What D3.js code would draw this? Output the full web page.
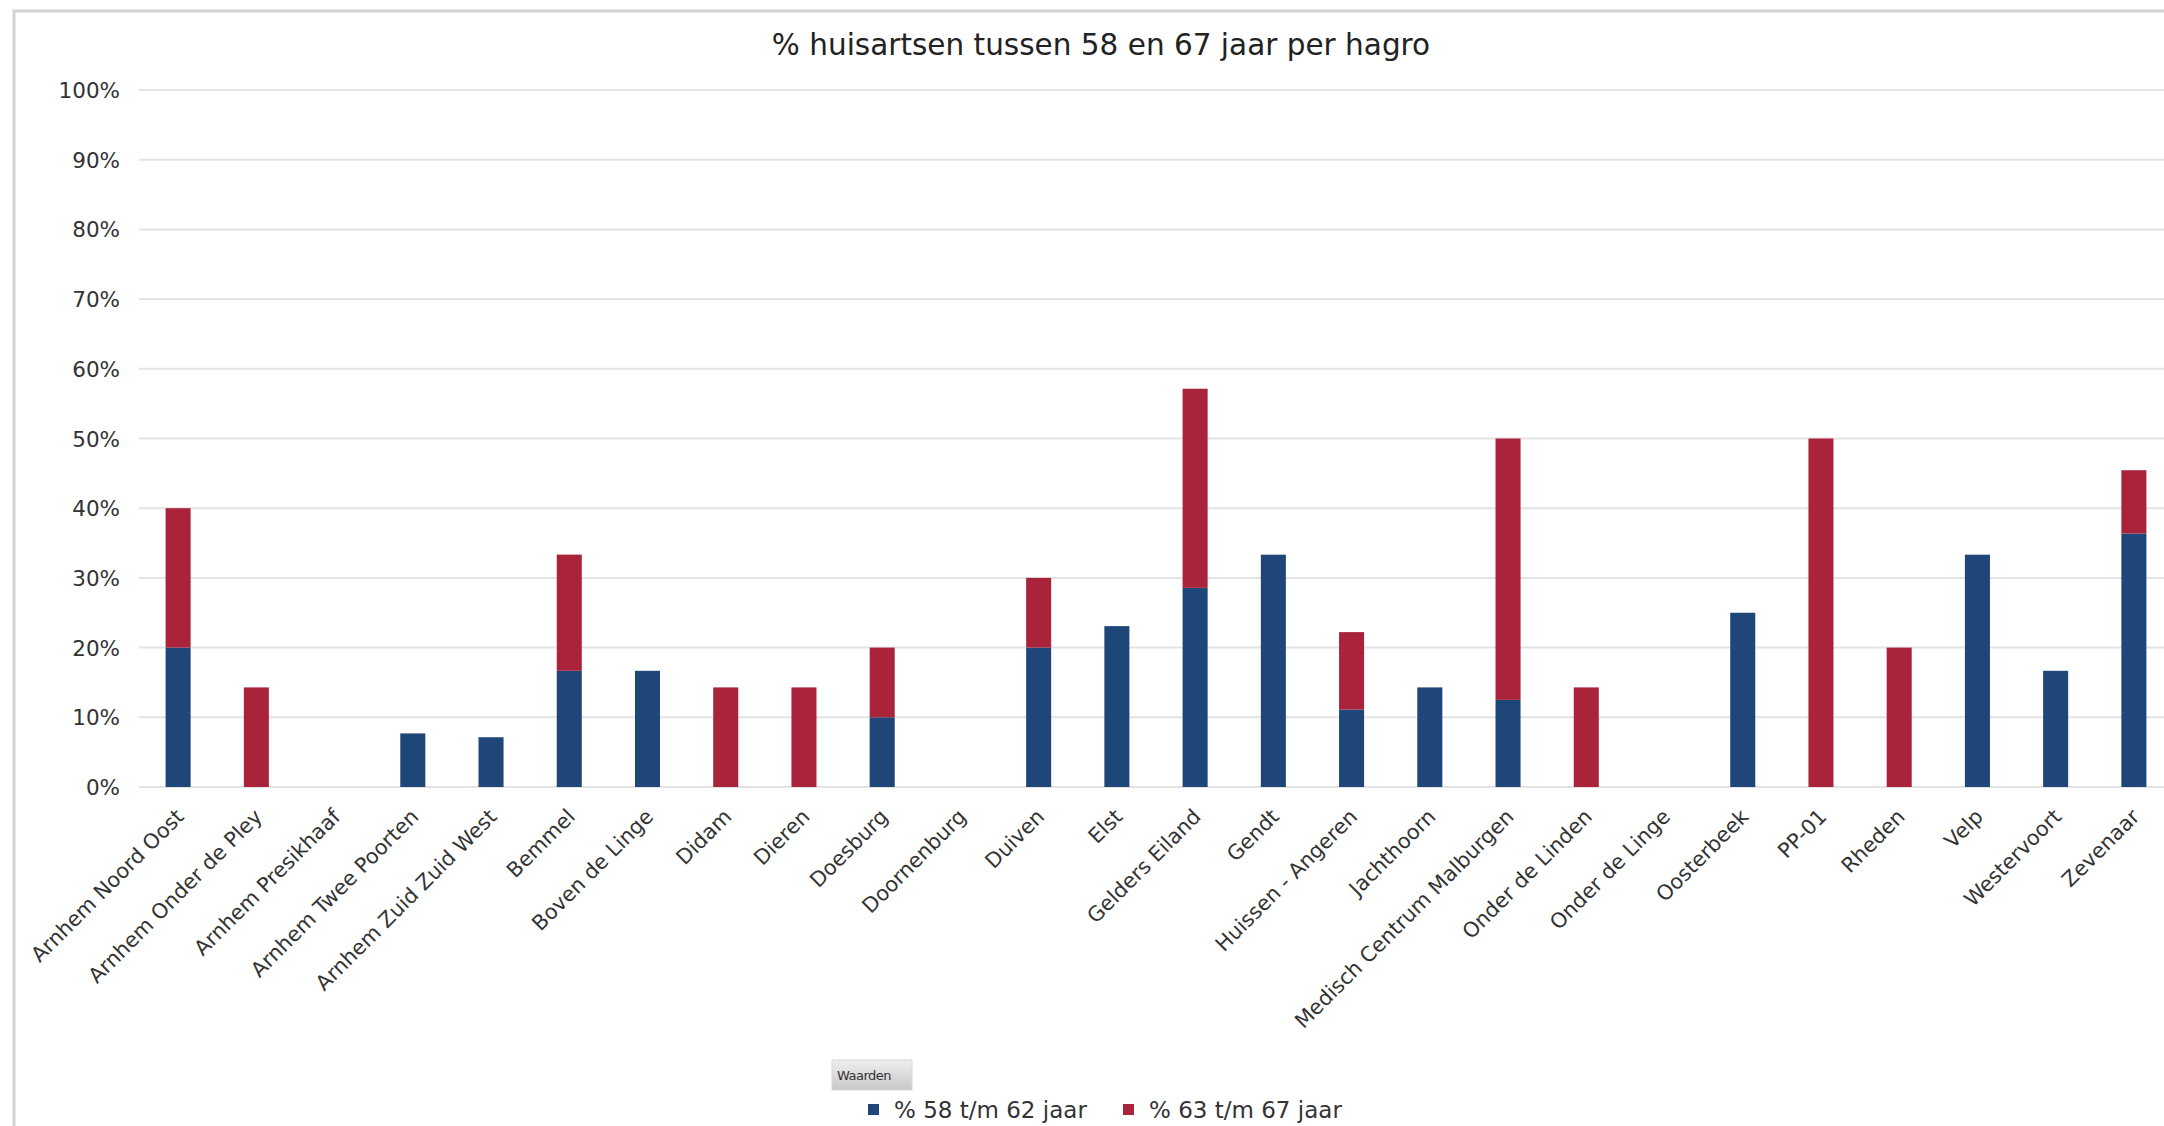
<!DOCTYPE html>
<html><head><meta charset="utf-8">
<script src="https://cdn.jsdelivr.net/npm/d3@7"></script>
<style>
html,body{margin:0;padding:0;background:#fff;overflow:hidden;}
svg{display:block;}
</style></head>
<body>
<svg id="chart" width="2164" height="1126"></svg>
<script>
const categories = ["Arnhem Noord Oost","Arnhem Onder de Pley","Arnhem Presikhaaf","Arnhem Twee Poorten","Arnhem Zuid Zuid West","Bemmel","Boven de Linge","Didam","Dieren","Doesburg","Doornenburg","Duiven","Elst","Gelders Eiland","Gendt","Huissen - Angeren","Jachthoorn","Medisch Centrum Malburgen","Onder de Linden","Onder de Linge","Oosterbeek","PP-01","Rheden","Velp","Westervoort","Zevenaar"];
const pct58to62 = [20,0,0,7.69,7.14,16.67,16.67,0,0,10,0,20,23.08,28.57,33.33,11.11,14.29,12.5,0,0,25,0,0,33.33,16.67,36.36];
const pct63to67 = [20,14.29,0,0,0,16.67,0,14.29,14.29,10,0,10,0,28.57,0,11.11,0,37.5,14.29,0,0,50,20,0,0,9.09];
const seriesNames = ["% 58 t/m 62 jaar","% 63 t/m 67 jaar"];
const yTicks = [0,10,20,30,40,50,60,70,80,90,100];
const title = "% huisartsen tussen 58 en 67 jaar per hagro";
const legendTitle = "Waarden";

const colors = ["#1e4679","#a9233a"];
const FONT = "'DejaVu Sans', Verdana, sans-serif";

const svg = d3.select("#chart");
// outer border
svg.append("rect").attr("x",14).attr("y",11).attr("width",2164).attr("height",1200)
  .attr("fill","#fff").attr("stroke","#d2d2d2").attr("stroke-width",3);

const x = d3.scaleBand().domain(categories).range([139,2173]).paddingInner(0.68).paddingOuter(0.34);
const y = d3.scaleLinear().domain([0,100]).range([787,90]);

// grid
const gGrid = svg.append("g");
gGrid.selectAll("line").data(yTicks).join("line")
  .attr("x1",139).attr("x2",2173)
  .attr("y1",d=>y(d)).attr("y2",d=>y(d))
  .attr("stroke","#e3e3e3").attr("stroke-width",2);

// y axis labels
const yAxis = d3.axisLeft(y).tickValues(yTicks).tickFormat(d=>d+"%").tickSize(0).tickPadding(0);
const gy = svg.append("g").attr("transform","translate(120,0)").call(yAxis);
gy.select(".domain").remove();
gy.selectAll("text").attr("font-family",FONT).attr("font-size",21.5).attr("fill","#333").attr("dy","0.35em");

// stacked bars
const rows = categories.map((c,i)=>({cat:c, a:pct58to62[i], b:pct63to67[i]}));
const stack = d3.stack().keys(["a","b"])(rows);
svg.append("g").selectAll("g").data(stack).join("g")
  .attr("fill",(d,i)=>colors[i])
  .selectAll("rect").data(d=>d).join("rect")
  .attr("x",d=>x(d.data.cat)).attr("width",x.bandwidth())
  .attr("y",d=>y(d[1])).attr("height",d=>Math.max(0,y(d[0])-y(d[1])));

// x axis labels
const xAxis = d3.axisBottom(x).tickSize(0).tickPadding(0);
const gx = svg.append("g").attr("transform","translate(0,787)").call(xAxis);
gx.select(".domain").remove();
gx.selectAll("text")
  .attr("font-family",FONT).attr("font-size",20.8).attr("fill","#333")
  .attr("text-anchor","end").attr("dy",0).attr("y",0)
  .attr("transform","translate(7,31) rotate(-45)");

// title
svg.append("text").attr("x",1101).attr("y",55).attr("text-anchor","middle")
  .attr("font-family",FONT).attr("font-size",29.5).attr("fill","#222").text(title);

// legend
const lg = svg.append("g");
const grad = svg.append("defs").append("linearGradient").attr("id","btn").attr("x1",0).attr("y1",0).attr("x2",0).attr("y2",1);
grad.append("stop").attr("offset","0").attr("stop-color","#eeeeee");
grad.append("stop").attr("offset","1").attr("stop-color","#c8c8c8");
lg.append("rect").attr("x",832).attr("y",1060).attr("width",80).attr("height",30).attr("fill","url(#btn)").attr("stroke","#d8d8d8");
lg.append("text").attr("x",837).attr("y",1080).attr("font-family",FONT).attr("font-size",13).attr("fill","#333").attr("letter-spacing","-0.5").text(legendTitle);
const legX = [868,1123];
seriesNames.forEach((s,i)=>{
  lg.append("rect").attr("x",legX[i]).attr("y",1104).attr("width",11).attr("height",11).attr("fill",colors[i]);
  lg.append("text").attr("x",legX[i]+26).attr("y",1118).attr("font-family",FONT).attr("font-size",23).attr("fill","#333").text(s);
});
</script>
</body></html>
